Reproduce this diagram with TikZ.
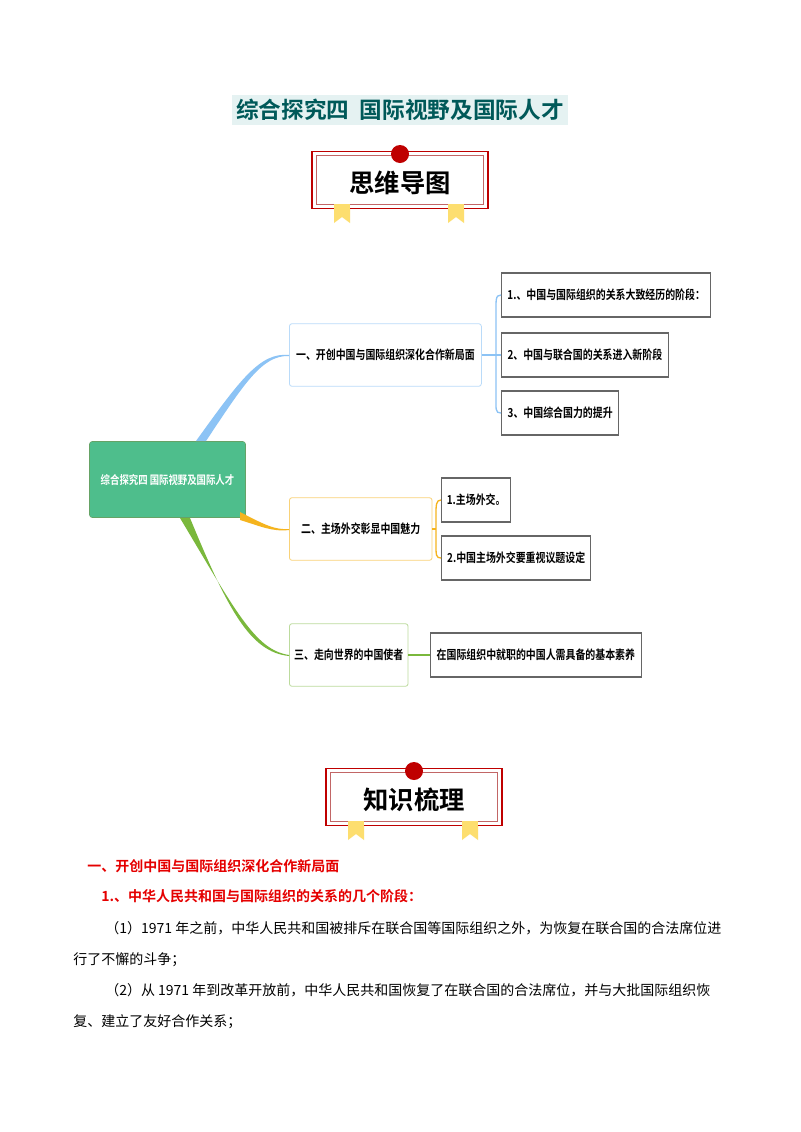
\documentclass[tikz,border=0pt]{standalone}
\usepackage{fontspec}
\setmainfont{Noto Sans CJK SC}
\newfontfamily\cjkb{Noto Sans CJK SC Bold}
\newfontfamily\cjkn[FakeStretch=0.8]{Noto Sans CJK SC Bold}
\definecolor{cgreen}{RGB}{78,190,140}
\definecolor{lblue}{RGB}{140,195,245}
\definecolor{lorange}{RGB}{245,180,30}
\definecolor{lgreen}{RGB}{122,184,60}
\begin{document}
\begin{tikzpicture}[x=0.75pt,y=-0.75pt,
  sub/.style={draw=gray!80!black,line width=0.8pt,anchor=west,minimum height=33pt,inner xsep=3pt,font=\cjkn\fontsize{9.3}{11}\selectfont},
  mid/.style={draw,rounded corners=2pt,line width=0.6pt,minimum height=47pt,inner xsep=3pt,anchor=west,font=\cjkn\fontsize{9.3}{11}\selectfont},
  ribbon/.style={fill=yellow!60!orange!55},
  body/.style={anchor=west,font=\fontsize{10.5}{12}\selectfont,inner sep=0}]
\useasboundingbox (0,0) rectangle (800,1132);
\fill[white] (0,0) rectangle (800,1132);
% title
\node[fill=teal!10,text=teal!70!black,font=\cjkb\fontsize{17}{20}\selectfont,minimum width=240pt,minimum height=21pt] (title) at (400,110) {综合探究四\ \ 国际视野及国际人才};
% banners
\foreach \cx/\cy/\t/\n in {400/180/思维导图/b1, 414/797/知识梳理/b2}{
  \fill[ribbon] (\cx-66,\cy+22) -- (\cx-50,\cy+22) -- (\cx-50,\cy+43) -- (\cx-58,\cy+37) -- (\cx-66,\cy+43) -- cycle;
  \fill[ribbon] (\cx+48,\cy+22) -- (\cx+64,\cy+22) -- (\cx+64,\cy+43) -- (\cx+56,\cy+37) -- (\cx+48,\cy+43) -- cycle;
  \node[draw=red!75!black,line width=1pt,fill=white,minimum width=132pt,minimum height=43pt] (\n) at (\cx,\cy) {};
  \draw[red!60!black!60,line width=0.6pt] ([shift={(5,5)}]\n.north west) rectangle ([shift={(-5,-5)}]\n.south east);
  \fill[ribbon] (\cx-66,\cy+24) rectangle (\cx-50,\cy+29);
  \fill[ribbon] (\cx+48,\cy+24) rectangle (\cx+64,\cy+29);
  \fill[red!75!black] (\cx,\cy-26) circle (9);
  \node[font=\cjkb\fontsize{19}{22}\selectfont] at (\cx,\cy+3) {\t};
}
% mind map
\node[fill=cgreen,draw=green!40!black!60,rounded corners=2pt,minimum width=117pt,minimum height=57pt,inner xsep=2pt,text=white,font=\cjkn\fontsize{8.8}{10}\selectfont] (c) at (167.5,479.5) {综合探究四 国际视野及国际人才};
\node[mid,draw=lblue!60,minimum width=144pt] (n1) at (289,355) {一、开创中国与国际组织深化合作新局面};
\node[mid,draw=lorange!60,minimum width=107pt] (n2) at (289,529) {二、主场外交彰显中国魅力};
\node[mid,draw=lgreen!50,minimum width=89pt] (n3) at (289,655) {三、走向世界的中国使者};
\node[sub,minimum width=157pt] (s11) at (501,295) {1.、中国与国际组织的关系大致经历的阶段：};
\node[sub,minimum width=125pt] (s12) at (501,355) {2、中国与联合国的关系进入新阶段};
\node[sub,minimum width=88pt] (s13) at (501,413) {3、中国综合国力的提升};
\node[sub,minimum width=52pt] (s21) at (441,500) {1.主场外交。};
\node[sub,minimum width=112pt] (s22) at (441,558) {2.中国主场外交要重视议题设定};
\node[sub,minimum width=158pt] (s31) at (430,655) {在国际组织中就职的中国人需具备的基本素养};
% connectors
\fill[lblue] (196,441) .. controls (240,380) and (260,352) .. (n1.west) -- (289,356) .. controls (262,355) and (244,384) .. (206,441) -- cycle;
\fill[lorange] (240,512) .. controls (265,525) and (275,530) .. (n2.west) -- (289,530) .. controls (272,532) and (260,526) .. (240,520) -- cycle;
\fill[lgreen] (180,518) .. controls (235,610) and (255,650) .. (n3.west) -- (289,656) .. controls (250,652) and (228,610) .. (190,518) -- cycle;
\draw[lblue,line width=1.5pt] (n1.east) -- (497,355);
\draw[lblue,line width=1pt] (s11.west) .. controls (495,295) and (496,300) .. (496,320) -- (496,393) .. controls (496,410) and (495,413) .. (s13.west);
\draw[lblue,line width=1pt] (496,355) -- (s12.west);
\draw[lorange,line width=1.5pt] (n2.east) -- (436,529);
\draw[lorange,line width=1pt] (s21.west) .. controls (436,500) and (436,505) .. (436,515) -- (436,545) .. controls (436,555) and (436,558) .. (s22.west);
\draw[lgreen,line width=1.5pt] (n3.east) -- (s31.west);
% text
\node[body,text=red!90!black,font=\cjkb\fontsize{10.5}{12}\selectfont] (h1) at (87,866) {一、开创中国与国际组织深化合作新局面};
\node[body,text=red!90!black,font=\cjkb\fontsize{10.5}{12}\selectfont] (h2) at (101,896) {1.、中华人民共和国与国际组织的关系的几个阶段：};
\node[body] (l1) at (105,928) {（1）1971 年之前，中华人民共和国被排斥在联合国等国际组织之外，为恢复在联合国的合法席位进};
\node[body] (l2) at (73,960) {行了不懈的斗争；};
\node[body] (l3) at (105,990) {（2）从 1971 年到改革开放前，中华人民共和国恢复了在联合国的合法席位，并与大批国际组织恢};
\node[body] (l4) at (73,1022) {复、建立了友好合作关系；};
\end{tikzpicture}
\end{document}
